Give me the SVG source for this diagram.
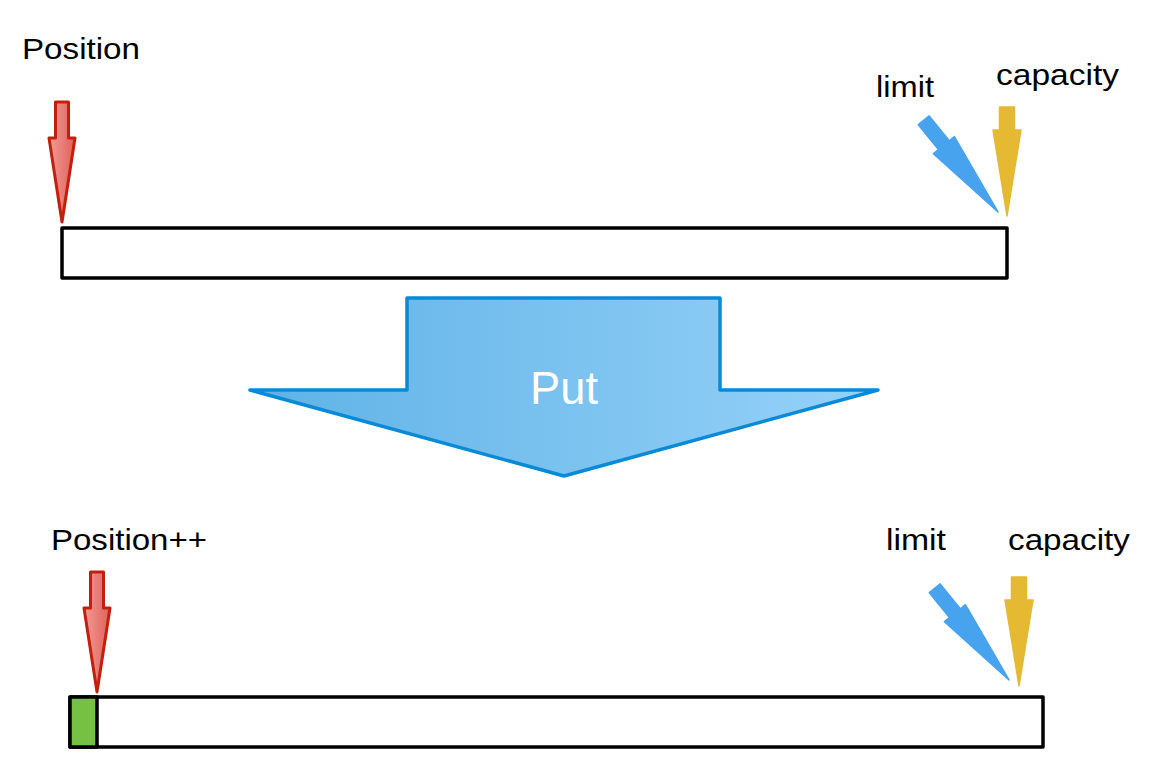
<svg xmlns="http://www.w3.org/2000/svg" width="1158" height="758" viewBox="0 0 1158 758">
  <defs>
    <linearGradient id="redGrad" x1="0" y1="0" x2="1" y2="0">
      <stop offset="0" stop-color="#f39a96"/>
      <stop offset="1" stop-color="#e0615a"/>
    </linearGradient>
    <linearGradient id="blueGrad" x1="250" y1="0" x2="878" y2="0" gradientUnits="userSpaceOnUse">
      <stop offset="0" stop-color="#5fb2e6"/>
      <stop offset="1" stop-color="#96d2f9"/>
    </linearGradient>
    <path id="posArrow" d="M-6.5,-120 L6.5,-120 L6.5,-84 L13,-84 L0,0 L-13,-84 L-6.5,-84 Z"/>
    <path id="capArrow" d="M-7.5,-109 L7.5,-109 L7.5,-86 L14,-86 L0,0 L-14,-86 L-7.5,-86 Z"/>
    <path id="limArrow" d="M-7,-118 L7,-118 L7,-86 L13.5,-86 L0,0 L-13.5,-86 L-7,-86 Z"/>
  </defs>
  <style>
    .lbl { font-family: "Liberation Sans", Arial, sans-serif; font-size: 30px; fill: #000; }
    .bar { fill: #fff; stroke: #000; stroke-width: 3.5; stroke-linejoin: round; }
    .pos { fill: url(#redGrad); stroke: #c41f0a; stroke-width: 3; stroke-linejoin: round; }
    .cap { fill: #e5b931; stroke: #e5b931; stroke-width: 1.5; stroke-linejoin: round; }
    .lim { fill: #48a3ee; stroke: #48a3ee; stroke-width: 1.5; stroke-linejoin: round; }
  </style>

  <g id="top-state">
    <rect class="bar" x="62" y="228" width="945" height="50"/>
  </g>
  <g id="top-position">
    <text class="lbl" x="22" y="59" textLength="118" lengthAdjust="spacingAndGlyphs">Position</text>
    <use href="#posArrow" class="pos" transform="translate(62,222)"/>
  </g>
  <g id="top-limit">
    <text class="lbl" x="876" y="97" textLength="58" lengthAdjust="spacingAndGlyphs">limit</text>
    <use href="#limArrow" class="lim" transform="translate(998,212) rotate(-39)"/>
  </g>
  <g id="top-capacity">
    <text class="lbl" x="996" y="85" textLength="123" lengthAdjust="spacingAndGlyphs">capacity</text>
    <use href="#capArrow" class="cap" transform="translate(1007,216)"/>
  </g>

  <g id="put">
    <path d="M407,298 L720,298 L720,390 L878,390 L564,476 L250,390 L407,390 Z" fill="url(#blueGrad)" stroke="#0a8ad6" stroke-width="3.5" stroke-linejoin="round"/>
    <text x="564" y="404" text-anchor="middle" font-family="'Liberation Sans', Arial, sans-serif" font-size="46" fill="#ffffff" textLength="68" lengthAdjust="spacingAndGlyphs">Put</text>
  </g>

  <g id="bottom-state">
    <rect class="bar" x="70" y="697" width="973" height="50"/>
    <rect x="70" y="697" width="27" height="50" fill="#76c043" stroke="#000" stroke-width="3.5" stroke-linejoin="round"/>
  </g>
  <g id="bottom-position">
    <text class="lbl" x="51" y="550" textLength="156" lengthAdjust="spacingAndGlyphs">Position++</text>
    <use href="#posArrow" class="pos" transform="translate(97,692)"/>
  </g>
  <g id="bottom-limit">
    <text class="lbl" x="886" y="550" textLength="60" lengthAdjust="spacingAndGlyphs">limit</text>
    <use href="#limArrow" class="lim" transform="translate(1009,680) rotate(-39)"/>
  </g>
  <g id="bottom-capacity">
    <text class="lbl" x="1008" y="550" textLength="122" lengthAdjust="spacingAndGlyphs">capacity</text>
    <use href="#capArrow" class="cap" transform="translate(1019,686)"/>
  </g>
</svg>
